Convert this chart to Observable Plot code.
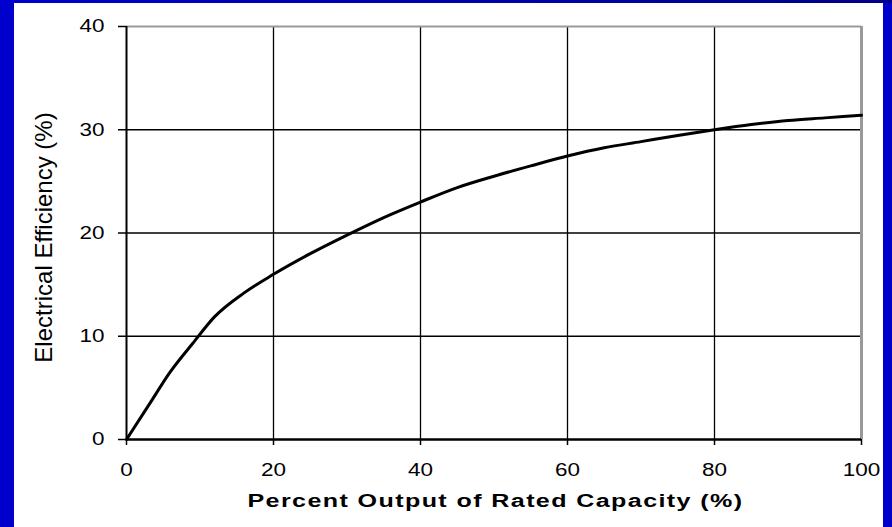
<!DOCTYPE html>
<html><head><meta charset="utf-8">
<script src="https://cdn.jsdelivr.net/npm/d3@7"></script>
<script src="https://cdn.jsdelivr.net/npm/@observablehq/plot@0.6"></script>
<style>
html,body{margin:0;padding:0;}
body{width:892px;height:527px;position:relative;overflow:hidden;background:#0000cc;}
#top{position:absolute;left:0;top:0;width:892px;height:3px;background:linear-gradient(to right,#0000cc,#0000b4 35%,#000088);}
#panel{position:absolute;left:14px;top:3px;width:869px;height:524px;background:#fff;}
#chart{position:absolute;left:0;top:0;}
</style></head><body>
<div id="top"></div><div id="panel"></div><div id="chart"></div>
<script>
const pct = [0, 3, 6, 9, 12, 16, 20, 25, 30, 35, 40, 45, 50, 55, 60, 65, 70, 75, 80, 85, 90, 95, 100];
const eff = [0, 3.3, 6.6, 9.3, 11.9, 14.2, 16.0, 18.0, 19.8, 21.5, 23.0, 24.4, 25.5, 26.5, 27.45, 28.25, 28.85, 29.45, 30.0, 30.5, 30.9, 31.15, 31.4];
const xTicks = [0, 20, 40, 60, 80, 100];
const yTicks = [0, 10, 20, 30, 40];
const xTitle = "Percent Output of Rated Capacity (%)";
const yTitle = "Electrical Efficiency (%)";
const data = pct.map((p, i) => ({p, e: eff[i]}));

const chart = Plot.plot({
  width: 892, height: 527,
  marginLeft: 126, marginRight: 31, marginTop: 26, marginBottom: 88,
  style: {background: "transparent", color: "#000", fontFamily: "'Liberation Sans', Arial, sans-serif", fontSize: "18px", overflow: "visible"},
  x: {domain: [0, 100], ticks: xTicks, tickSize: 6, tickPadding: 18, label: null, tickFormat: d => String(d)},
  y: {domain: [0, 40], ticks: yTicks, tickSize: 8, tickPadding: 14, label: null, tickFormat: d => String(d)},
  marks: [
    Plot.ruleX(xTicks.filter(d => d > 0 && d < 100), {stroke: "#000", strokeWidth: 1.3}),
    Plot.ruleY(yTicks.filter(d => d > 0 && d < 40), {stroke: "#000", strokeWidth: 1.3}),
    Plot.ruleY([40], {stroke: "#999", strokeWidth: 2}),
    Plot.ruleX([100], {stroke: "#999", strokeWidth: 3}),
    Plot.ruleX([0], {stroke: "#000", strokeWidth: 2}),
    Plot.ruleY([0], {stroke: "#000", strokeWidth: 2.5}),
    Plot.line(data, {x: "p", y: "e", stroke: "#000", strokeWidth: 3, curve: "monotone-x"}),
    Plot.text([xTitle], {text: d => d, frameAnchor: "bottom", textAnchor: "middle", dx: 1.5, dy: 67.5, fontWeight: "bold", fontSize: 18, fill: "#000"}),
    Plot.text([yTitle], {text: d => d, frameAnchor: "left", textAnchor: "middle", rotate: -90, dx: -82.5, dy: 4.5, fontSize: 24, fill: "#000"})
  ]
});
document.getElementById("chart").appendChild(chart);

// stretch tick labels horizontally like the reference
chart.querySelectorAll("text").forEach(t => {
  const s = t.textContent.trim();
  if (/^\d+$/.test(s)) {
    const w = t.getComputedTextLength();
    t.setAttribute("textLength", (w * 1.25).toFixed(1));
    t.setAttribute("lengthAdjust", "spacingAndGlyphs");
  } else if (s === xTitle) {
    t.style.letterSpacing = "1px";
    t.setAttribute("textLength", "496");
    t.setAttribute("lengthAdjust", "spacingAndGlyphs");
  }
});
chart.querySelectorAll("[aria-label$='tick'] path, .tick line").forEach(p => p.setAttribute("stroke-width", "1.5"));
</script>
</body></html>
